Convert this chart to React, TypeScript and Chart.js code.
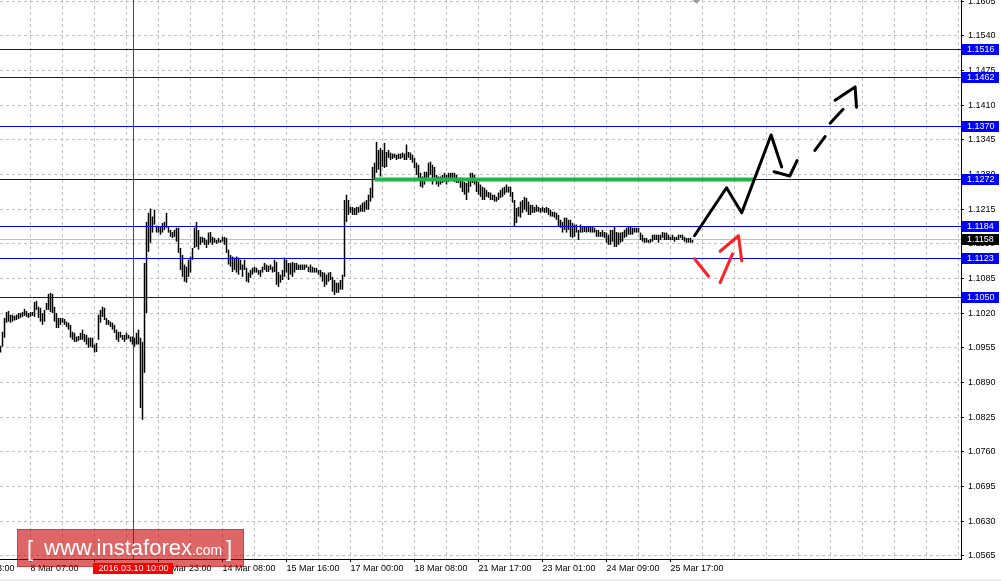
import { useEffect, useRef } from 'react';
import { Chart, registerables } from 'chart.js';

Chart.register(...registerables);

// ---- H1 bars (EURUSD), high / low per bar ----
const barHighs: number[] = [
  1.0959, 1.0985, 1.1011, 1.1022, 1.1024, 1.1017, 1.1017, 1.1015, 1.1017, 1.1020,
  1.1020, 1.1022, 1.1028, 1.1024, 1.1020, 1.1022, 1.1022, 1.1041, 1.1043, 1.1032,
  1.1030, 1.1020, 1.1026, 1.1039, 1.1056, 1.1058, 1.1056, 1.1032, 1.1020, 1.1011,
  1.1011, 1.1011, 1.1009, 1.1004, 1.1002, 1.0998, 1.0985, 1.0983, 1.0976, 1.0977,
  1.0983, 1.0989, 1.0981, 1.0979, 1.0974, 1.0974, 1.0974, 1.0961, 1.0964, 1.1017,
  1.1026, 1.1032, 1.1030, 1.1011, 1.1007, 1.1004, 1.1002, 1.0998, 1.0989, 1.0985,
  1.0985, 1.0979, 1.0979, 1.0983, 1.0979, 1.0976, 1.0976, 1.0974, 1.0983, 1.0989,
  1.0974, 1.0966, 1.1114, 1.1191, 1.1208, 1.1216, 1.1201, 1.1214, 1.1184, 1.1182,
  1.1182, 1.1189, 1.1191, 1.1208, 1.1182, 1.1176, 1.1172, 1.1176, 1.1180, 1.1180,
  1.1142, 1.1129, 1.1111, 1.1107, 1.1120, 1.1126, 1.1142, 1.1180, 1.1191, 1.1176,
  1.1163, 1.1163, 1.1161, 1.1157, 1.1171, 1.1172, 1.1163, 1.1161, 1.1157, 1.1161,
  1.1157, 1.1163, 1.1163, 1.1161, 1.1139, 1.1129, 1.1126, 1.1124, 1.1126, 1.1124,
  1.1120, 1.1111, 1.1120, 1.1105, 1.1096, 1.1101, 1.1105, 1.1107, 1.1105, 1.1101,
  1.1101, 1.1107, 1.1114, 1.1111, 1.1109, 1.1111, 1.1107, 1.1120, 1.1116, 1.1097,
  1.1092, 1.1101, 1.1124, 1.1120, 1.1114, 1.1114, 1.1116, 1.1114, 1.1114, 1.1111,
  1.1111, 1.1111, 1.1111, 1.1111, 1.1107, 1.1111, 1.1107, 1.1105, 1.1105, 1.1101,
  1.1101, 1.1097, 1.1096, 1.1092, 1.1096, 1.1097, 1.1088, 1.1082, 1.1077, 1.1077,
  1.1082, 1.1092, 1.1232, 1.1242, 1.1232, 1.1219, 1.1219, 1.1217, 1.1219, 1.1219,
  1.1223, 1.1227, 1.1229, 1.1232, 1.1242, 1.1255, 1.1294, 1.1302, 1.1341, 1.1326,
  1.1330, 1.1326, 1.1339, 1.1322, 1.1326, 1.1321, 1.1319, 1.1319, 1.1317, 1.1319,
  1.1319, 1.1321, 1.1319, 1.1336, 1.1322, 1.1321, 1.1317, 1.1311, 1.1302, 1.1298,
  1.1283, 1.1276, 1.1285, 1.1285, 1.1302, 1.1304, 1.1298, 1.1294, 1.1279, 1.1276,
  1.1276, 1.1279, 1.1283, 1.1279, 1.1283, 1.1283, 1.1283, 1.1283, 1.1279, 1.1274,
  1.1274, 1.1270, 1.1266, 1.1264, 1.1270, 1.1283, 1.1283, 1.1279, 1.1270, 1.1266,
  1.1261, 1.1257, 1.1255, 1.1251, 1.1247, 1.1246, 1.1242, 1.1242, 1.1238, 1.1246,
  1.1251, 1.1255, 1.1257, 1.1261, 1.1257, 1.1257, 1.1247, 1.1232, 1.1217, 1.1219,
  1.1229, 1.1232, 1.1238, 1.1236, 1.1229, 1.1223, 1.1223, 1.1219, 1.1223, 1.1219,
  1.1217, 1.1219, 1.1217, 1.1219, 1.1217, 1.1214, 1.1210, 1.1210, 1.1208, 1.1204,
  1.1195, 1.1191, 1.1199, 1.1199, 1.1195, 1.1195, 1.1189, 1.1186, 1.1186, 1.1176,
  1.1186, 1.1182, 1.1182, 1.1182, 1.1182, 1.1182, 1.1182, 1.1180, 1.1176, 1.1176,
  1.1172, 1.1176, 1.1172, 1.1171, 1.1167, 1.1176, 1.1176, 1.1182, 1.1172, 1.1171,
  1.1171, 1.1172, 1.1176, 1.1180, 1.1182, 1.1182, 1.1180, 1.1180, 1.1180, 1.1180,
  1.1171, 1.1167, 1.1161, 1.1161, 1.1157, 1.1159, 1.1167, 1.1167, 1.1167, 1.1167,
  1.1167, 1.1172, 1.1171, 1.1171, 1.1167, 1.1163, 1.1167, 1.1163, 1.1163, 1.1167,
  1.1167, 1.1167, 1.1163, 1.1161, 1.1161, 1.1161, 1.1157,
];

const barLows: number[] = [
  1.0946, 1.0957, 1.0974, 1.1002, 1.1004, 1.1002, 1.1004, 1.1006, 1.1007, 1.1009,
  1.1011, 1.1013, 1.1015, 1.1013, 1.1011, 1.1013, 1.1015, 1.1013, 1.1026, 1.1011,
  1.1004, 1.0998, 1.1004, 1.1026, 1.1026, 1.1022, 1.1020, 1.1004, 1.0992, 1.0992,
  1.0998, 1.1002, 1.0998, 1.0994, 1.0989, 1.0974, 1.0970, 1.0966, 1.0966, 1.0968,
  1.0970, 1.0970, 1.0966, 1.0961, 1.0955, 1.0957, 1.0955, 1.0946, 1.0947, 1.0970,
  1.1002, 1.1013, 1.1007, 1.0998, 1.0998, 1.0994, 1.0989, 1.0983, 1.0970, 1.0966,
  1.0974, 1.0970, 1.0966, 1.0970, 1.0972, 1.0966, 1.0961, 1.0957, 1.0961, 1.0961,
  1.0842, 1.0820, 1.0908, 1.1020, 1.1135, 1.1152, 1.1171, 1.1186, 1.1171, 1.1171,
  1.1167, 1.1171, 1.1176, 1.1180, 1.1171, 1.1163, 1.1161, 1.1163, 1.1154, 1.1133,
  1.1101, 1.1088, 1.1079, 1.1077, 1.1088, 1.1096, 1.1120, 1.1142, 1.1144, 1.1139,
  1.1148, 1.1152, 1.1148, 1.1142, 1.1148, 1.1152, 1.1148, 1.1152, 1.1150, 1.1152,
  1.1152, 1.1154, 1.1148, 1.1133, 1.1111, 1.1107, 1.1097, 1.1101, 1.1096, 1.1092,
  1.1101, 1.1088, 1.1101, 1.1079, 1.1077, 1.1086, 1.1092, 1.1096, 1.1096, 1.1092,
  1.1088, 1.1096, 1.1101, 1.1097, 1.1097, 1.1101, 1.1096, 1.1097, 1.1073, 1.1069,
  1.1077, 1.1082, 1.1088, 1.1096, 1.1082, 1.1092, 1.1088, 1.1096, 1.1101, 1.1101,
  1.1101, 1.1101, 1.1101, 1.1105, 1.1097, 1.1096, 1.1096, 1.1096, 1.1096, 1.1092,
  1.1088, 1.1079, 1.1069, 1.1073, 1.1079, 1.1082, 1.1060, 1.1054, 1.1058, 1.1058,
  1.1064, 1.1064, 1.1088, 1.1191, 1.1204, 1.1208, 1.1204, 1.1204, 1.1204, 1.1208,
  1.1210, 1.1210, 1.1210, 1.1214, 1.1214, 1.1229, 1.1236, 1.1270, 1.1283, 1.1289,
  1.1276, 1.1294, 1.1292, 1.1294, 1.1311, 1.1307, 1.1309, 1.1311, 1.1307, 1.1309,
  1.1309, 1.1311, 1.1307, 1.1307, 1.1311, 1.1307, 1.1302, 1.1292, 1.1279, 1.1270,
  1.1257, 1.1255, 1.1261, 1.1270, 1.1274, 1.1279, 1.1261, 1.1274, 1.1261, 1.1257,
  1.1261, 1.1264, 1.1266, 1.1261, 1.1266, 1.1270, 1.1270, 1.1266, 1.1264, 1.1264,
  1.1255, 1.1247, 1.1242, 1.1232, 1.1246, 1.1257, 1.1264, 1.1261, 1.1247, 1.1242,
  1.1238, 1.1232, 1.1232, 1.1238, 1.1236, 1.1232, 1.1232, 1.1229, 1.1229, 1.1232,
  1.1236, 1.1238, 1.1242, 1.1246, 1.1246, 1.1238, 1.1227, 1.1182, 1.1189, 1.1201,
  1.1199, 1.1208, 1.1214, 1.1210, 1.1204, 1.1204, 1.1208, 1.1208, 1.1210, 1.1210,
  1.1208, 1.1210, 1.1208, 1.1208, 1.1204, 1.1201, 1.1201, 1.1199, 1.1195, 1.1182,
  1.1180, 1.1171, 1.1176, 1.1171, 1.1176, 1.1163, 1.1161, 1.1163, 1.1171, 1.1157,
  1.1171, 1.1171, 1.1172, 1.1171, 1.1172, 1.1171, 1.1171, 1.1171, 1.1163, 1.1163,
  1.1163, 1.1163, 1.1161, 1.1152, 1.1148, 1.1148, 1.1154, 1.1144, 1.1144, 1.1148,
  1.1152, 1.1154, 1.1161, 1.1163, 1.1167, 1.1167, 1.1167, 1.1171, 1.1171, 1.1171,
  1.1157, 1.1154, 1.1152, 1.1152, 1.1152, 1.1152, 1.1154, 1.1157, 1.1157, 1.1152,
  1.1157, 1.1161, 1.1157, 1.1157, 1.1157, 1.1157, 1.1157, 1.1154, 1.1157, 1.1157,
  1.1161, 1.1157, 1.1154, 1.1152, 1.1152, 1.1152, 1.1152,
];

// ---- price axis ----
const priceMin = 1.0559;
const priceMax = 1.1607;
const priceTicks: number[] = [
  1.0565, 1.063, 1.0695, 1.076, 1.0825, 1.089, 1.0955, 1.102, 1.1085,
  1.115, 1.1215, 1.128, 1.1345, 1.141, 1.1475, 1.154, 1.1605,
];

// ---- time axis (bar index) ----
const barMin = -0.25;
const barMax = 480.25;
const timeGridIdx: number[] = [
  -17, -1, 15, 31, 47, 63, 79, 95, 111, 127, 143, 159, 175, 191, 207, 223,
  239, 255, 271, 287, 303, 319, 335, 351, 367, 383, 399, 415, 431, 447, 463, 479,
];
const timeLabelIdx: number[] = [-17, 15, 47, 79, 111, 143, 175, 207, 239, 271, 303, 335];
const timeLabels: string[] = [
  '6 Mar 23:00', '8 Mar 07:00', '9 Mar 15:00', '10 Mar 23:00', '14 Mar 08:00', '15 Mar 16:00',
  '17 Mar 00:00', '18 Mar 08:00', '21 Mar 17:00', '23 Mar 01:00', '24 Mar 09:00', '25 Mar 17:00',
];

// ---- horizontal levels / markers ----
const levelPrices: number[] = [1.1516, 1.1462, 1.137, 1.1272, 1.1184, 1.1123, 1.105];
const bidPrice = 1.1158;
const greenLevel = 1.1272;
const greenFromIdx = 187;
const greenToIdx = 377;
const cursorIdx = 66;
const cursorLabel = '2016.03.10 10:00';
const shiftIdx = 348;

// ---- forecast drawings [barIndex, price] ----
const forecastPath: number[][] = [[347, 1.1165], [363, 1.1255], [370.6, 1.1208], [385.3, 1.1354], [390.6, 1.1294]];
const forecastHook: number[][] = [[386.8, 1.1285], [394.6, 1.1277], [398.3, 1.1306]];
const forecastDash1: number[][] = [[407.2, 1.1325], [412.3, 1.1351]];
const forecastDash2: number[][] = [[414.8, 1.1376], [421.3, 1.1402]];
const forecastHead: number[][] = [[417.3, 1.1419], [427.3, 1.1444], [428, 1.1406]];
const altStroke1: number[][] = [[347, 1.1122], [354, 1.1089]];
const altStroke2: number[][] = [[359.8, 1.1077], [366, 1.1131]];
const altHead: number[][] = [[359.8, 1.1136], [369, 1.1165], [370.6, 1.1118]];

const FONT = '"Liberation Sans", Arial, sans-serif';

const lineSet = (pts: number[][], color: string) => ({
  type: 'line' as const,
  data: pts.map(([x, y]) => ({ x, y })),
  borderColor: color,
  borderWidth: 3,
  pointRadius: 0,
  fill: false,
  tension: 0,
  order: 0,
  borderCapStyle: 'round' as const,
  borderJoinStyle: 'round' as const,
  clip: false as const,
});

const overlayPlugin = {
  id: 'mt4overlay',
  beforeDatasetsDraw(chart: any) {
    const { ctx, chartArea: a, scales } = chart;
    const yb = Math.round(scales.y.getPixelForValue(bidPrice));
    ctx.save();
    ctx.fillStyle = '#c0c0c0';
    ctx.fillRect(a.left, yb, a.right - a.left, 1);
    ctx.restore();
  },
  afterDatasetDraw(chart: any, args: any) {
    if (args.index !== 0) return;
    const { ctx, chartArea: a, scales } = chart;
    const { x, y } = scales;
    ctx.save();
    ctx.globalAlpha = 1;
    ctx.fillStyle = 'rgb(0,0,255)';
    for (const lv of levelPrices) {
      const yy = Math.round(y.getPixelForValue(lv));
      ctx.fillRect(a.left, yy, a.right - a.left, 1);
    }
    // green support/resistance segment
    const gy = Math.round(y.getPixelForValue(greenLevel));
    const gx1 = x.getPixelForValue(greenFromIdx);
    const gx2 = x.getPixelForValue(greenToIdx);
    ctx.fillStyle = 'rgb(34,177,76)';
    ctx.fillRect(gx1, gy - 1.5, gx2 - gx1, 4);
    // red vertical cursor line
    const xc = Math.round(x.getPixelForValue(cursorIdx));
    ctx.fillStyle = 'rgb(255,0,0)';
    ctx.fillRect(xc, a.top, 1, a.bottom - a.top);
    ctx.restore();
  },
  afterDraw(chart: any) {
    const { ctx, chartArea: a, scales, width, height } = chart;
    const { x, y } = scales;
    ctx.save();
    ctx.font = `9px ${FONT}`;
    ctx.textBaseline = 'middle';
    ctx.textAlign = 'left';
    const drawBox = (price: number, bg: string) => {
      const yy = Math.round(y.getPixelForValue(price));
      ctx.fillStyle = bg;
      ctx.fillRect(a.right + 1, yy - 5, 37, 11);
      ctx.fillStyle = '#ffffff';
      ctx.fillText(price.toFixed(4), a.right + 6, yy + 0.5);
    };
    for (const lv of levelPrices) drawBox(lv, '#0000ff');
    drawBox(bidPrice, '#000000');

    // shift marker
    const sx = x.getPixelForValue(shiftIdx);
    ctx.fillStyle = '#a0a0a0';
    ctx.beginPath();
    ctx.moveTo(sx - 4, 0);
    ctx.lineTo(sx + 4, 0);
    ctx.lineTo(sx, 4);
    ctx.closePath();
    ctx.fill();

    // watermark
    ctx.fillStyle = 'rgba(200,0,0,0.6)';
    ctx.fillRect(17, 529, 227, 38);
    ctx.strokeStyle = 'rgba(150,0,0,0.35)';
    ctx.lineWidth = 1;
    ctx.strokeRect(17.5, 529.5, 226, 37);
    ctx.fillStyle = '#ffffff';
    ctx.textBaseline = 'alphabetic';
    ctx.font = `22px ${FONT}`;
    ctx.fillText('[', 27, 556);
    ctx.fillText('www.instaforex', 44, 555);
    const w1 = ctx.measureText('www.instaforex').width;
    ctx.font = `14px ${FONT}`;
    ctx.fillText('.com', 44 + w1, 555);
    ctx.font = `22px ${FONT}`;
    ctx.fillText(']', 226, 556);

    // cursor date label
    const xc = Math.round(x.getPixelForValue(cursorIdx));
    ctx.fillStyle = '#ff0000';
    ctx.fillRect(xc - 40, a.bottom + 4, 80, 11);
    ctx.fillStyle = '#ffffff';
    ctx.font = `9px ${FONT}`;
    ctx.textAlign = 'center';
    ctx.textBaseline = 'middle';
    ctx.fillText(cursorLabel, xc + 0.5, a.bottom + 10);

    // bottom strip
    ctx.fillStyle = '#ececec';
    ctx.fillRect(0, height - 2, width, 2);
    ctx.restore();
  },
};

export default function App() {
  const ref = useRef<HTMLCanvasElement>(null);
  useEffect(() => {
    document.body.style.margin = '0';
    const n = Math.min(barHighs.length, barLows.length);
    const bars = [];
    for (let i = 0; i < n; i++) bars.push({ x: i, y: [barLows[i], barHighs[i]] });
    const chart = new Chart(ref.current as HTMLCanvasElement, {
      type: 'bar',
      data: {
        datasets: [
          {
            type: 'bar',
            data: bars as any,
            backgroundColor: '#000000',
            borderWidth: 0,
            barThickness: 1.5,
            inflateAmount: 0,
            grouped: false,
            order: 10,
          } as any,
          lineSet(forecastPath, '#000000'),
          lineSet(forecastHook, '#000000'),
          lineSet(forecastDash1, '#000000'),
          lineSet(forecastDash2, '#000000'),
          lineSet(forecastHead, '#000000'),
          lineSet(altStroke1, '#ff2020'),
          lineSet(altStroke2, '#ff2020'),
          lineSet(altHead, '#ff2020'),
        ],
      },
      options: {
        responsive: false,
        animation: false,
        devicePixelRatio: 1,
        events: [],
        layout: { padding: 0 },
        plugins: { legend: { display: false }, tooltip: { enabled: false } },
        scales: {
          x: {
            type: 'linear',
            min: barMin,
            max: barMax,
            offset: false,
            bounds: 'data',
            grid: {
              offset: false,
              color: '#c0c0c0',
              lineWidth: 1,
              drawTicks: true,
              tickLength: 3,
              tickColor: (c: any) => (timeLabelIdx.includes(c.tick?.value) ? '#000000' : 'rgba(0,0,0,0)'),
            },
            border: { display: true, color: '#000000', width: 1, dash: [3, 3] },
            ticks: {
              autoSkip: false,
              maxRotation: 0,
              minRotation: 0,
              align: 'start',
              padding: 1,
              color: '#000000',
              font: { family: FONT, size: 9 },
              callback: (v: any) => {
                const k = timeLabelIdx.indexOf(Number(v));
                return k >= 0 ? timeLabels[k] : '';
              },
            },
            afterBuildTicks: (s: any) => {
              s.ticks = timeGridIdx.map((v) => ({ value: v }));
            },
            afterFit: (s: any) => {
              s.height = 22;
              s.paddingLeft = 0;
              s.paddingRight = 0;
            },
          } as any,
          y: {
            type: 'linear',
            position: 'right',
            min: priceMin,
            max: priceMax,
            bounds: 'data',
            grid: { color: '#c0c0c0', lineWidth: 1, tickLength: 3, tickColor: '#000000' },
            border: { display: true, color: '#000000', width: 1, dash: [3, 3] },
            ticks: {
              padding: 4,
              color: '#000000',
              font: { family: FONT, size: 9 },
              callback: (v: any) => Number(v).toFixed(4),
            },
            afterBuildTicks: (s: any) => {
              s.ticks = priceTicks.map((v) => ({ value: v }));
            },
            afterFit: (s: any) => {
              s.width = 40;
              s.paddingTop = 0;
              s.paddingBottom = 0;
            },
          } as any,
        },
      },
      plugins: [overlayPlugin],
    });
    return () => chart.destroy();
  }, []);
  return (
    <div style={{ width: 1001, height: 581, background: '#ffffff' }}>
      <canvas ref={ref} width={1001} height={581} style={{ display: 'block' }} />
    </div>
  );
}
